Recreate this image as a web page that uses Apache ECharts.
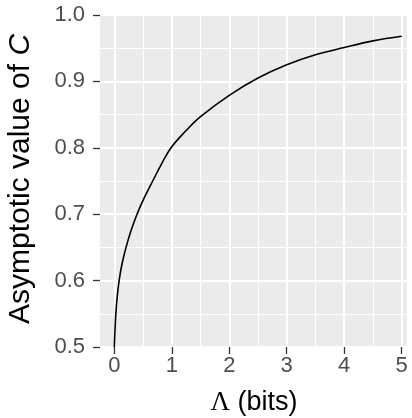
<!DOCTYPE html>
<html>
<head>
<meta charset="utf-8">
<script src="https://cdn.jsdelivr.net/npm/echarts@6/dist/echarts.min.js"></script>
<style>
  html, body { margin: 0; padding: 0; background: #fff; }
  #chart { width: 412px; height: 418px; }
</style>
</head>
<body>
<div id="chart"></div>
<script>
// values
const lambdaBits = [0, 0.012, 0.027, 0.05, 0.084, 0.134, 0.204, 0.29, 0.395, 0.522, 0.668, 0.818, 0.987, 1.25, 1.5, 2, 2.5, 3, 3.5, 4, 4.5, 5]
const asymptoticC = [0.5, 0.525, 0.55, 0.575, 0.6, 0.625, 0.65, 0.675, 0.7, 0.725, 0.75, 0.775, 0.8, 0.826, 0.847, 0.879, 0.905, 0.925, 0.94, 0.951, 0.961, 0.968]
const xTicks = [0, 1, 2, 3, 4, 5]
const yTicks = [0.5, 0.6, 0.7, 0.8, 0.9, 1.0]

const chart = echarts.init(document.getElementById('chart'), null, { renderer: 'canvas' })

const labelStyle = {
  color: '#4D4D4D',
  fontFamily: 'Liberation Sans',
  fontSize: 22
}
const tickStyle = {
  show: true,
  length: 7,
  lineStyle: { color: '#333333', width: 1.3 }
}
const titleRich = {
  s: { fontFamily: 'Liberation Serif', fontSize: 27, fill: '#000' },
  a: { fontFamily: 'Liberation Sans', fontSize: 27, fill: '#000' },
  ya: { fontFamily: 'Liberation Sans', fontSize: 30, fill: '#000' },
  yc: { fontFamily: 'Liberation Sans', fontSize: 30, fontStyle: 'italic', fill: '#000' }
}

chart.setOption({
  animation: false,
  backgroundColor: '#ffffff',
  grid: [
    // data area: x from 0 to 5
    { left: 114.3, right: 10.3, top: 15, bottom: 71 },
    // full panel (ggplot expands x a bit)
    { left: 100, right: 5, top: 15, bottom: 71, show: true, backgroundColor: '#EBEBEB', borderWidth: 0 }
  ],
  // axis titles
  graphic: [
    {
      type: 'text',
      x: 254,
      y: 403,
      style: {
        text: '{s|Λ}{a| (bits)}',
        rich: titleRich,
        align: 'center',
        verticalAlign: 'middle'
      }
    },
    {
      type: 'text',
      x: 21,
      y: 179,
      rotation: Math.PI / 2,
      style: {
        text: '{ya|Asymptotic value of }{yc|C}',
        rich: titleRich,
        align: 'center',
        verticalAlign: 'middle'
      }
    }
  ],
  xAxis: [
    {
      gridIndex: 0,
      type: 'value',
      min: xTicks[0],
      max: xTicks[xTicks.length - 1],
      interval: 1,
      z: 1,
      axisLine: { show: false },
      axisTick: tickStyle,
      axisLabel: Object.assign({ margin: 8, formatter: v => String(v) }, labelStyle),
      splitLine: { show: true, lineStyle: { color: '#ffffff', width: 2 } },
      minorTick: { show: false, splitNumber: 2 },
      minorSplitLine: { show: true, lineStyle: { color: '#ffffff', width: 1 } }
    },
    {
      gridIndex: 1,
      type: 'value',
      min: 0,
      max: 1,
      show: false
    }
  ],
  yAxis: [
    {
      gridIndex: 0,
      type: 'value',
      min: yTicks[0],
      max: yTicks[yTicks.length - 1],
      interval: 0.1,
      show: false
    },
    {
      gridIndex: 1,
      type: 'value',
      min: yTicks[0],
      max: yTicks[yTicks.length - 1],
      interval: 0.1,
      z: 1,
      axisLine: { show: false },
      axisTick: tickStyle,
      axisLabel: Object.assign({ margin: 15, formatter: v => v.toFixed(1) }, labelStyle),
      splitLine: { show: true, lineStyle: { color: '#ffffff', width: 2 } },
      minorTick: { show: false, splitNumber: 2 },
      minorSplitLine: { show: true, lineStyle: { color: '#ffffff', width: 1 } }
    }
  ],
  series: [
    {
      type: 'line',
      xAxisIndex: 0,
      yAxisIndex: 0,
      data: lambdaBits.map((x, i) => [x, asymptoticC[i]]),
      smooth: 0.4,
      symbol: 'none',
      lineStyle: { color: '#000000', width: 1.6 },
      z: 3
    }
  ]
})
</script>
</body>
</html>
